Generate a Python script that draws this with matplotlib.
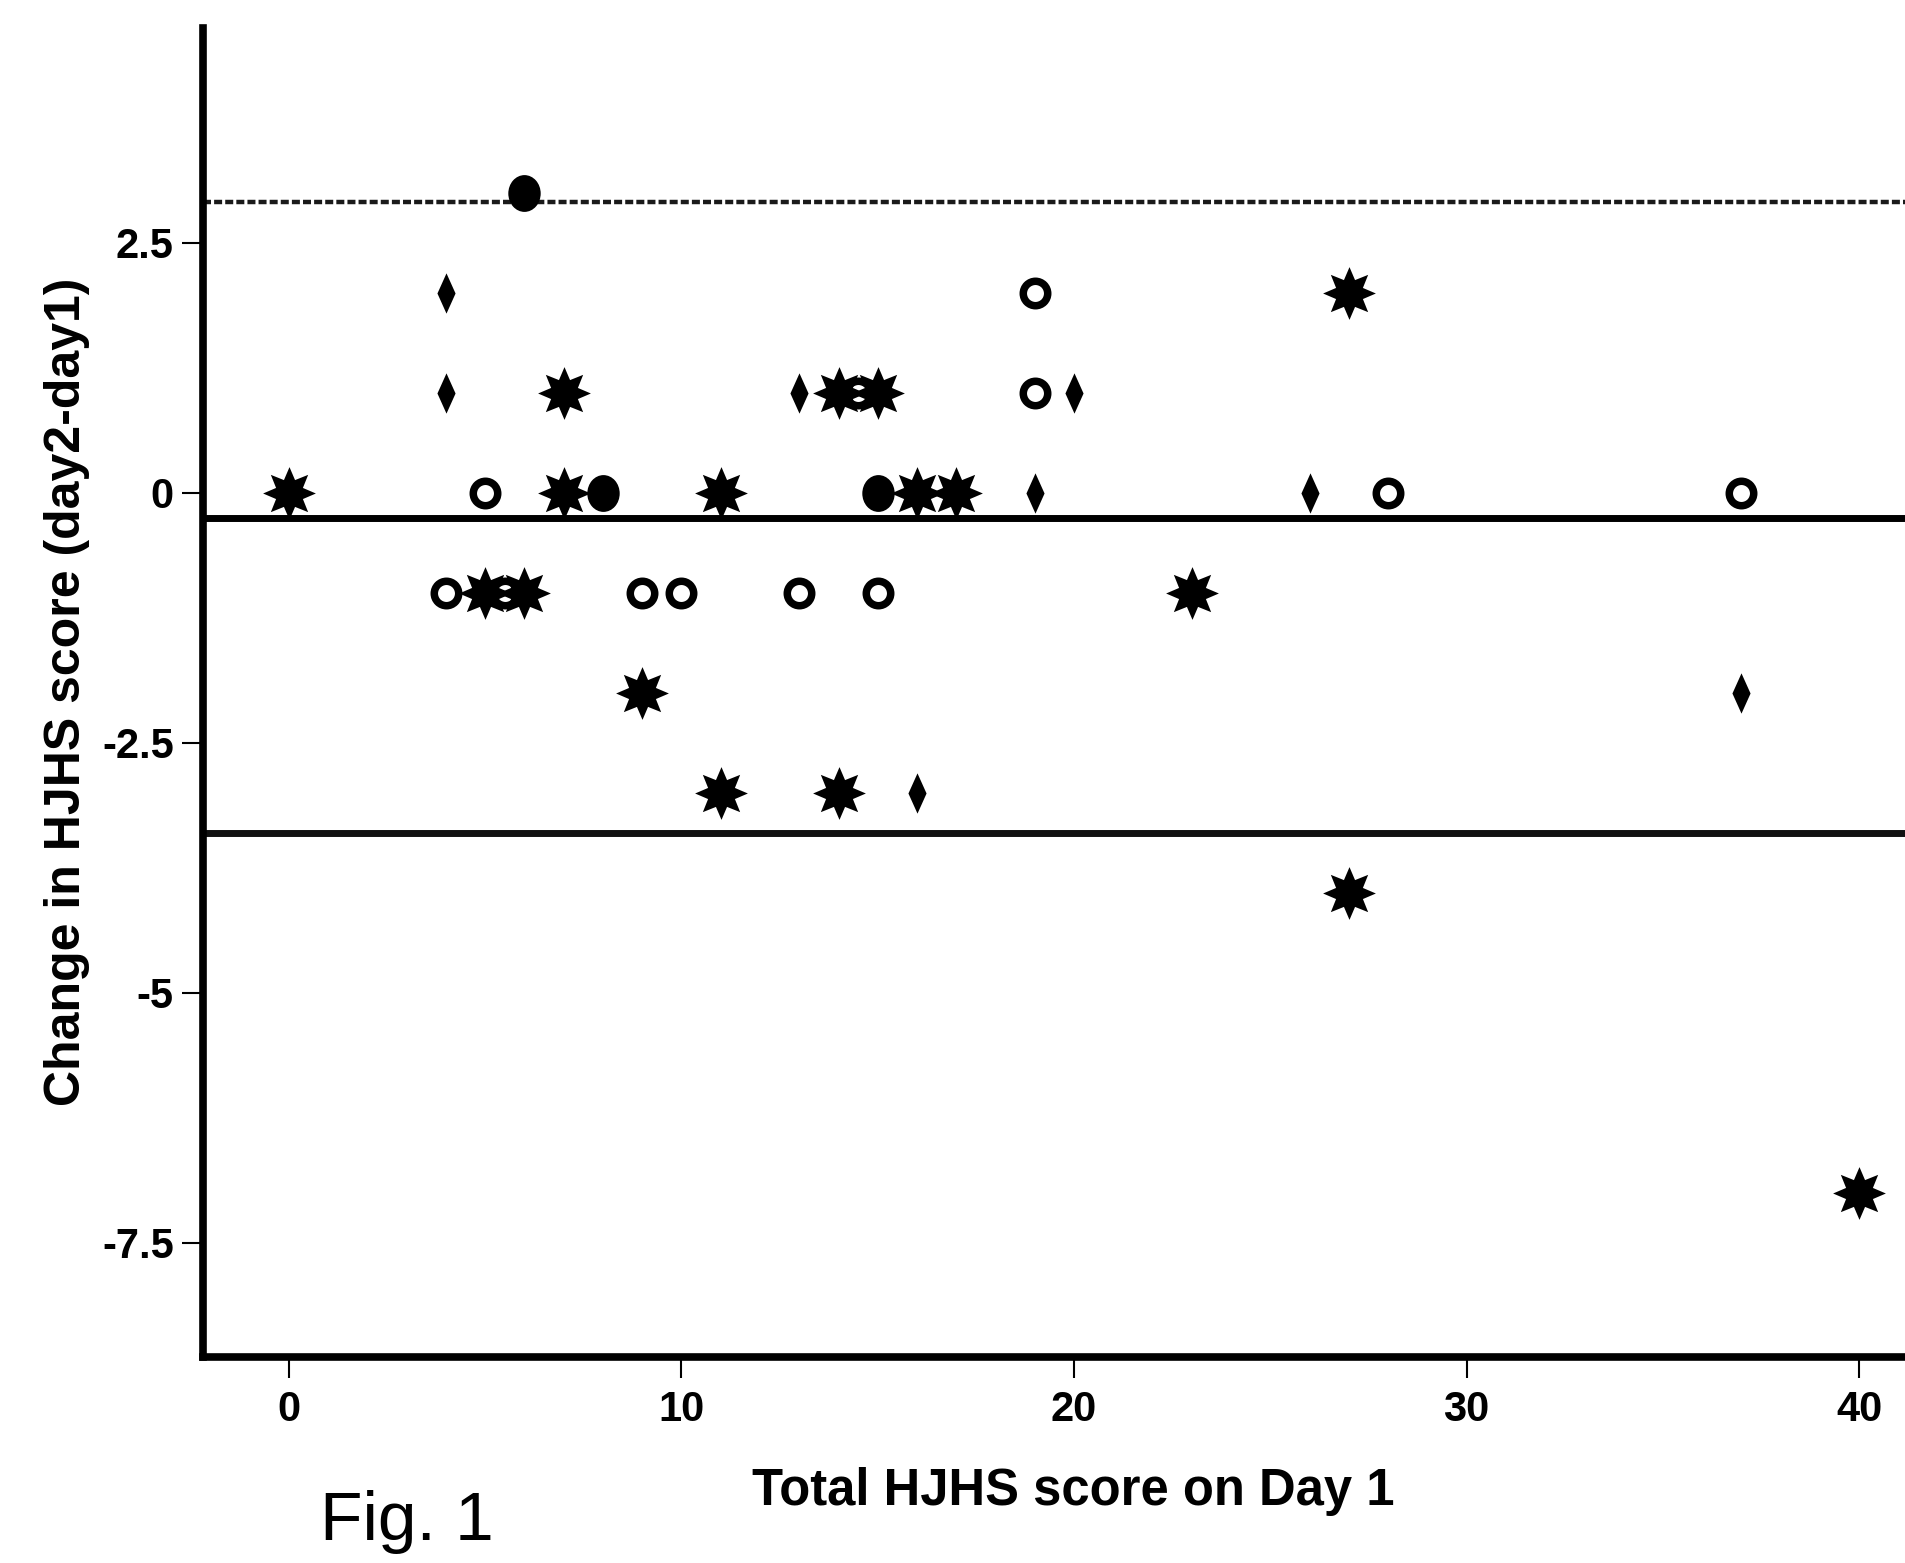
import numpy as np
import matplotlib
matplotlib.use("Agg")
import matplotlib.pyplot as plt
from matplotlib.path import Path
from matplotlib.transforms import Affine2D

# ---- data ----
star_x = [0, 7, 14, 15, 27, 7, 11, 16, 17, 5, 6, 23, 9, 11, 14, 27, 40]
star_y = [0, 1, 1, 1, 2, 0, 0, 0, 0, -1, -1, -1, -2, -3, -3, -4, -7]

open_x = [19, 14.5, 19, 5, 28, 37, 4, 5.5, 9, 10, 13, 15]
open_y = [2, 1, 1, 0, 0, 0, -1, -1, -1, -1, -1, -1]

diamond_x = [4, 4, 13, 20, 19, 26, 37, 16]
diamond_y = [2, 1, 1, 1, 0, 0, -2, -3]

filled_x = [6, 8, 15]
filled_y = [3, 0, 0]

upper_limit = 2.91
mean_diff = -0.245
lower_limit = -3.40

x_ticks = [0, 10, 20, 30, 40]
y_ticks = [-7.5, -5, -2.5, 0, 2.5]
y_tick_labels = ["-7.5", "-5", "-2.5", "0", "2.5"]

x_label = "Total HJHS score on Day 1"
y_label = "Change in HJHS score (day2-day1)"
fig_label = "Fig. 1"

plt.rcParams['font.family'] = ['Liberation Sans', 'DejaVu Sans']

fig = plt.figure(figsize=(19.05, 15.63), dpi=100)
ax = fig.add_axes([203 / 1905, 1 - 1357 / 1563, 1 - 203 / 1905, (1357 - 28) / 1563])
ax.set_xlim(-2.19, 41.17)
ax.set_ylim(-8.64, 4.65)

# marker paths
star_path = Path.unit_regular_star(8, 0.55)
diamond_path = Path([(0, 1), (0.45, 0), (0, -1), (-0.45, 0), (0, 1)],
                    [Path.MOVETO, Path.LINETO, Path.LINETO, Path.LINETO, Path.CLOSEPOLY])
ellipse_path = Path.unit_circle().transformed(Affine2D().scale(0.88, 1.0))

# reference lines
ax.axhline(upper_limit, color='#1a1a1a', lw=3.2, linestyle=(0, (1.8, 0.7)), zorder=1)
ax.axhline(mean_diff, color='black', lw=5.0, zorder=1)
ax.axhline(lower_limit, color='#111111', lw=5.0, zorder=1)

# points
ax.plot(open_x, open_y, linestyle='none', marker='o', ms=17.6, mew=5.4,
        mfc='white', mec='black', zorder=3)
ax.plot(filled_x, filled_y, linestyle='none', marker=ellipse_path, ms=26.5,
        mfc='black', mec='black', mew=0, zorder=3)
ax.plot(diamond_x, diamond_y, linestyle='none', marker=diamond_path, ms=29,
        mfc='black', mec='black', mew=0, zorder=3)
ax.plot(star_x, star_y, linestyle='none', marker=star_path, ms=38,
        mfc='black', mec='black', mew=0, zorder=4)

# spines
for s in ['top', 'right']:
    ax.spines[s].set_visible(False)
for s in ['left', 'bottom']:
    ax.spines[s].set_linewidth(5.5)
    ax.spines[s].set_color('black')
    ax.spines[s].set_capstyle('projecting')

ax.set_xticks(x_ticks)
ax.set_xticklabels([str(v) for v in x_ticks])
ax.set_yticks(y_ticks)
ax.set_yticklabels(y_tick_labels)
ax.tick_params(axis='both', direction='out', length=15, width=1.5, color='black',
               labelsize=30)
ax.tick_params(axis='x', pad=9)
ax.tick_params(axis='y', pad=6)
for lab in ax.get_xticklabels() + ax.get_yticklabels():
    lab.set_fontweight('bold')

fig.text(1073 / 1905, 1 - 1491 / 1563, x_label, ha='center', va='center',
         fontsize=36.5, fontweight='bold')
fig.text(67 / 1905, 1 - 692 / 1563, y_label, ha='center', va='center',
         rotation=90, fontsize=36, fontweight='bold')
fig.text(320 / 1905, 1 - 1522 / 1563, fig_label, ha='left', va='center',
         fontsize=50)

fig.savefig("out.png", dpi=100, facecolor='white')
